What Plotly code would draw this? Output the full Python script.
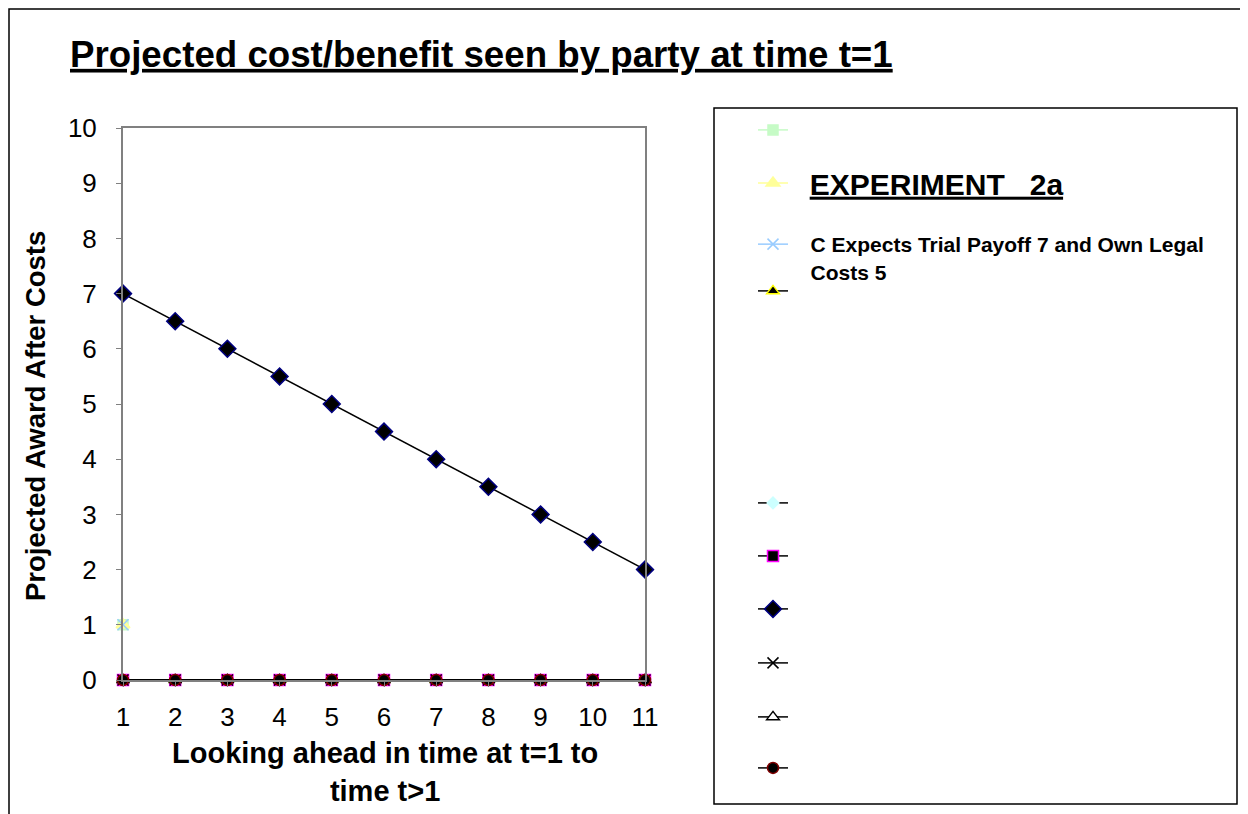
import plotly.graph_objects as go

# data
t = [1, 2, 3, 4, 5, 6, 7, 8, 9, 10, 11]
s_green_sq = [1, None, None, None, None, None, None, None, None, None, None]
s_yellow_tri = [1, None, None, None, None, None, None, None, None, None, None]
s_blue_x = [1, None, None, None, None, None, None, None, None, None, None]
s_black_tri = [0, 0, 0, 0, 0, 0, 0, 0, 0, 0, 0]
s_cyan_dia = [0, 0, 0, 0, 0, 0, 0, 0, 0, 0, 0]
s_magenta_sq = [0, 0, 0, 0, 0, 0, 0, 0, 0, 0, 0]
s_award = [7, 6.5, 6, 5.5, 5, 4.5, 4, 3.5, 3, 2.5, 2]
s_black_x = [0, 0, 0, 0, 0, 0, 0, 0, 0, 0, 0]
s_white_tri = [0, 0, 0, 0, 0, 0, 0, 0, 0, 0, 0]
s_circle = [0, 0, 0, 0, 0, 0, 0, 0, 0, 0, 0]

NB = "\u00a0"
names = [
    NB,
    NB * 2 + "<b><u>EXPERIMENT   2a</u></b>",
    NB * 3 + "<b>C Expects Trial Payoff 7 and Own Legal<br>" + NB * 3 + "Costs 5</b>",
    NB, NB, NB, NB, NB, NB, NB,
]

FONT = "Liberation Sans, Arial, sans-serif"
OFF = 8  # page body margin
W, H = 1248 - 2 * OFF, 814 - OFF
# plot area in page pixels
PL, PR, PT, PB = 123, 645, 128, 680


def px(x):
    return (x - PL) / (PR - PL)


def py(y):
    return (PB - y) / (PB - PT)


styles = [
    # values, symbol, fill, outline, line colour, size
    (s_green_sq, "square", "#C6FBC6", "#C6FBC6", "#C6FBC6", 10),
    (s_yellow_tri, "triangle-up", "#FFFF99", "#FFFF99", "#FFFF99", 12),
    (s_blue_x, "x-thin-open", "#99CCFF", "#99CCFF", "#99CCFF", 11),
    (s_black_tri, "triangle-up", "#000000", "#FFFF00", "#000000", 11),
    (s_cyan_dia, "diamond", "#CCFFFF", "#CCFFFF", "#000000", 9),
    (s_magenta_sq, "square", "#000000", "#FF00FF", "#000000", 11),
    (s_award, "diamond", "#000000", "#000080", "#000000", 13),
    (s_black_x, "x-thin-open", "#000000", "#000000", "#000000", 11),
    (s_white_tri, "triangle-up", "#FFFFFF", "#000000", "#000000", 11),
    (s_circle, "circle", "#000000", "#800000", "#000000", 11),
]

legend_y = [130, 183, 224, 291, 503, 556, 609, 663, 717, 768]

fig = go.Figure()
for i, (vals, sym, fill, edge, lcol, size) in enumerate(styles):
    fig.add_trace(go.Scatter(
        x=t, y=vals, mode="lines+markers", name=names[i],
        line=dict(color=lcol, width=1.5),
        marker=dict(symbol=sym, color=fill if "open" not in sym else edge, size=size,
                    line=dict(color=edge, width=1.5)),
        cliponaxis=False, showlegend=True,
        legend="legend" if i == 0 else "legend%d" % (i + 1),
    ))

legends = {}
for i, y in enumerate(legend_y):
    key = "legend" if i == 0 else "legend%d" % (i + 1)
    size = 16
    if i == 1:
        size = 30
    if i == 2:
        size = 21
    legends[key] = dict(
        x=px(753), y=py(y), xref="paper", yref="paper",
        xanchor="left", yanchor="top" if i == 2 else "middle",
        valign="top",
        bgcolor="rgba(0,0,0,0)", borderwidth=0,
        font=dict(family=FONT, size=size, color="black"),
        itemclick=False, itemdoubleclick=False,
    )

fig.update_layout(
    width=W, height=H, showlegend=True,
    paper_bgcolor="white", plot_bgcolor="white",
    margin=dict(l=PL - OFF, r=W - (PR - OFF), t=PT - OFF, b=H - (PB - OFF)),
    font=dict(family=FONT, color="black"),
    title=dict(
        text="<b><u>Projected cost/benefit seen by party at time t=1</u></b>",
        font=dict(family=FONT, size=36.7, color="black"),
        x=(70 - OFF) / W, xref="container", xanchor="left",
        y=1 - (54 - OFF) / H, yref="container", yanchor="middle",
    ),
    xaxis=dict(
        range=[1, 11], tickmode="array", tickvals=t, ticktext=[str(v) for v in t],
        showgrid=False, zeroline=False,
        showline=True, linecolor="#808080", linewidth=2, mirror=True,
        ticks="outside", ticklen=5, tickcolor="#808080", ticklabelstandoff=8,
        tickfont=dict(family=FONT, size=26, color="black"),
    ),
    yaxis=dict(
        range=[0, 10], dtick=1,
        showgrid=False, zeroline=False,
        showline=True, linecolor="#808080", linewidth=2, mirror=True,
        ticks="outside", ticklen=5, tickcolor="#808080", ticklabelstandoff=14,
        tickfont=dict(family=FONT, size=26, color="black"),
    ),
    annotations=[
        dict(text="<b>Projected Award After Costs</b>", textangle=-90,
             xref="paper", yref="paper", x=px(35), y=py(416),
             xanchor="center", yanchor="middle", showarrow=False,
             font=dict(family=FONT, size=27.5, color="black")),
        dict(text="<b>Looking ahead in time at t=1 to<br>time t>1</b>",
             xref="paper", yref="paper", x=px(385), y=py(772),
             xanchor="center", yanchor="middle", showarrow=False,
             font=dict(family=FONT, size=29, color="black")),
    ],
    shapes=[
        # chart frame
        dict(type="rect", xref="paper", yref="paper",
             x0=px(9), x1=px(1260), y0=py(830), y1=py(9),
             line=dict(color="black", width=1.5), fillcolor="rgba(0,0,0,0)", layer="below"),
        # legend box
        dict(type="rect", xref="paper", yref="paper",
             x0=px(714), x1=px(1237), y0=py(804), y1=py(108),
             line=dict(color="black", width=1.5), fillcolor="rgba(0,0,0,0)", layer="below"),
    ],
    **legends,
)

fig.write_html("out.html")
